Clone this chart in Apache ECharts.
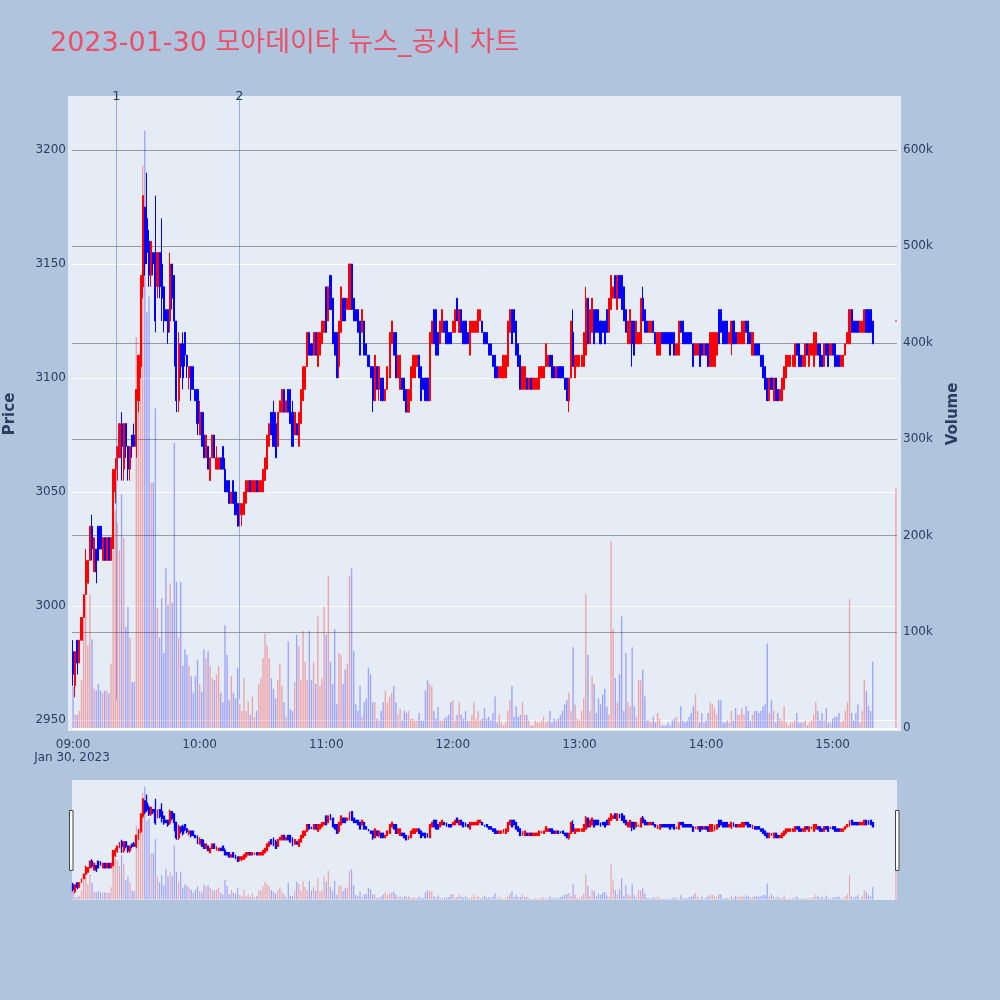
<!DOCTYPE html>
<html><head><meta charset="utf-8">
<script src="https://cdn.jsdelivr.net/npm/echarts@6/dist/echarts.min.js"></script>
<style>html,body{margin:0;padding:0;background:#B0C4DE;}#c{width:1000px;height:1000px;}</style>
</head><body><div id="c"></div>
<script>
// ---- data (minute candles, 09:00..15:19 plus 15:30 closing auction) ----
const openP = [
2980,2965,2985,2975,2985,2995,3005,3010,3020,3035, 3015,3025,3035,3035,3020,3030,3020,3030,3020,3025,
3050,3060,3065,3080,3060,3080,3070,3060,3075,3075, 3070,3090,3105,3140,3175,3170,3160,3145,3155,3155,
3140,3155,3150,3140,3130,3130,3125,3150,3145,3125, 3090,3115,3115,3120,3110,3100,3105,3105,3095,3095,
3075,3085,3075,3065,3070,3055,3065,3075,3060,3060, 3065,3070,3060,3055,3055,3045,3055,3050,3045,3040,
3040,3040,3045,3050,3055,3050,3050,3055,3050,3050, 3050,3055,3060,3070,3085,3085,3080,3070,3085,3085,
3095,3085,3095,3095,3085,3075,3080,3070,3080,3090, 3095,3105,3120,3115,3110,3120,3105,3110,3115,3120,
3140,3125,3145,3135,3120,3120,3105,3120,3135,3135, 3130,3130,3150,3135,3130,3130,3125,3120,3125,3115,
3110,3105,3105,3090,3105,3095,3100,3100,3090,3095, 3100,3115,3120,3120,3100,3095,3100,3100,3095,3085,
3090,3100,3100,3105,3110,3105,3100,3100,3100,3090, 3115,3130,3130,3120,3115,3120,3125,3125,3120,3120,
3120,3120,3135,3120,3130,3125,3125,3120,3110,3120, 3120,3120,3120,3125,3125,3120,3120,3115,3115,3110,
3110,3105,3100,3100,3100,3100,3105,3120,3130,3130, 3125,3115,3110,3095,3095,3100,3095,3100,3095,3095,
3095,3095,3100,3100,3105,3105,3110,3110,3105,3100, 3105,3105,3105,3100,3100,3090,3100,3120,3100,3105,
3105,3105,3105,3110,3135,3115,3120,3130,3130,3130, 3125,3125,3125,3130,3120,3130,3135,3145,3130,3145,
3145,3140,3130,3115,3115,3125,3125,3115,3115,3115, 3135,3130,3125,3120,3120,3125,3120,3110,3110,3120,
3120,3120,3120,3120,3120,3120,3110,3110,3125,3125, 3120,3120,3120,3120,3115,3110,3110,3115,3115,3110,
3115,3115,3105,3105,3105,3110,3130,3130,3125,3125, 3125,3115,3115,3125,3120,3115,3115,3115,3115,3125,
3125,3120,3110,3115,3115,3115,3110,3110,3105,3100, 3090,3100,3090,3100,3095,3090,3090,3095,3100,3105,
3105,3105,3105,3115,3115,3110,3105,3105,3115,3105, 3110,3105,3110,3115,3115,3110,3105,3115,3115,3110,
3115,3115,3110,3110,3105,3105,3110,3115,3115,3130, 3125,3125,3125,3120,3120,3120,3130,3130,3130,3125,
3125];
const closeP = [
2970,2980,2975,2985,2995,3005,3020,3020,3035,3025, 3030,3015,3020,3025,3030,3020,3030,3020,3030,3060,
3060,3070,3080,3070,3080,3070,3060,3070,3070,3070, 3095,3110,3145,3180,3150,3155,3145,3160,3150,3125,
3155,3140,3135,3125,3125,3120,3150,3135,3125,3090, 3115,3105,3100,3110,3105,3105,3095,3095,3090,3080,
3085,3070,3065,3075,3060,3065,3075,3065,3065,3065, 3060,3060,3050,3050,3045,3050,3045,3040,3035,3045,
3045,3050,3055,3055,3050,3055,3055,3050,3055,3055, 3060,3065,3075,3080,3075,3070,3065,3085,3090,3095,
3085,3090,3085,3080,3070,3085,3075,3085,3095,3105, 3105,3120,3110,3110,3120,3110,3120,3120,3125,3125,
3120,3140,3130,3115,3110,3100,3125,3140,3125,3125, 3135,3150,3130,3125,3125,3120,3110,3130,3110,3110,
3105,3100,3090,3110,3095,3105,3090,3090,3095,3105, 3120,3125,3110,3100,3110,3110,3095,3090,3085,3095,
3105,3110,3110,3110,3100,3090,3095,3090,3090,3120, 3125,3115,3110,3110,3125,3130,3120,3115,3115,3115,
3125,3130,3125,3130,3120,3115,3115,3115,3125,3125, 3125,3125,3130,3130,3120,3115,3115,3110,3110,3105,
3100,3100,3105,3105,3110,3110,3125,3130,3115,3120, 3110,3105,3095,3105,3105,3095,3100,3095,3100,3100,
3100,3105,3105,3105,3115,3110,3105,3100,3100,3105, 3100,3100,3100,3095,3090,3100,3125,3105,3110,3110,
3110,3110,3120,3135,3115,3130,3135,3115,3120,3120, 3115,3120,3115,3120,3135,3145,3140,3135,3145,3135,
3130,3125,3120,3125,3130,3115,3110,3125,3120,3135, 3125,3120,3120,3125,3125,3120,3115,3120,3120,3115,
3115,3115,3115,3110,3115,3110,3115,3125,3120,3115, 3115,3115,3115,3115,3105,3115,3115,3105,3110,3115,
3110,3105,3120,3120,3120,3120,3115,3120,3115,3115, 3115,3120,3125,3115,3115,3120,3120,3125,3125,3120,
3115,3115,3120,3110,3110,3110,3105,3100,3095,3090, 3100,3095,3100,3090,3090,3095,3100,3105,3110,3110,
3110,3110,3115,3110,3105,3105,3110,3115,3110,3115, 3115,3120,3120,3110,3105,3105,3115,3110,3105,3115,
3110,3105,3105,3105,3110,3110,3115,3120,3130,3120, 3120,3120,3120,3125,3125,3130,3120,3120,3120,3115,
3125];
const lowP = [
2965,2960,2970,2975,2985,2995,3005,3010,3020,3020, 3015,3010,3020,3025,3020,3020,3020,3020,3020,3025,
3045,3055,3065,3055,3055,3065,3055,3055,3065,3070, 3065,3085,3100,3135,3145,3150,3140,3140,3145,3120,
3135,3135,3125,3120,3125,3115,3120,3130,3105,3085, 3085,3100,3095,3105,3100,3095,3090,3095,3090,3075,
3075,3070,3065,3065,3060,3055,3065,3065,3060,3060, 3060,3060,3050,3050,3045,3045,3045,3040,3035,3035,
3035,3040,3045,3050,3050,3050,3050,3050,3050,3050, 3050,3055,3060,3070,3075,3070,3065,3070,3085,3085,
3085,3085,3085,3080,3070,3075,3075,3070,3080,3090, 3095,3105,3110,3110,3110,3110,3105,3110,3115,3120,
3120,3125,3130,3115,3110,3100,3100,3120,3125,3125, 3130,3130,3130,3125,3125,3120,3110,3120,3110,3110,
3105,3100,3085,3090,3095,3090,3090,3090,3090,3095, 3100,3115,3110,3100,3100,3095,3095,3090,3085,3085,
3090,3100,3100,3105,3100,3090,3095,3090,3090,3090, 3115,3115,3110,3110,3115,3120,3120,3115,3115,3115,
3120,3120,3125,3120,3120,3115,3115,3115,3110,3120, 3120,3120,3120,3125,3120,3115,3115,3110,3110,3105,
3100,3100,3100,3100,3100,3100,3105,3120,3115,3120, 3110,3105,3095,3095,3095,3095,3095,3095,3095,3095,
3095,3095,3100,3100,3105,3105,3105,3100,3100,3100, 3100,3100,3100,3095,3090,3085,3100,3105,3100,3105,
3105,3105,3105,3110,3115,3115,3120,3115,3120,3120, 3115,3120,3115,3120,3120,3130,3135,3135,3130,3135,
3130,3125,3120,3115,3115,3105,3110,3115,3115,3115, 3125,3120,3120,3120,3120,3120,3115,3110,3110,3115,
3115,3115,3115,3110,3115,3110,3110,3110,3120,3115, 3115,3115,3115,3115,3105,3110,3110,3105,3110,3110,
3110,3105,3105,3105,3105,3110,3115,3120,3115,3115, 3115,3115,3110,3115,3115,3115,3115,3115,3115,3120,
3115,3115,3110,3110,3110,3110,3105,3100,3095,3090, 3090,3095,3090,3090,3090,3090,3090,3095,3100,3105,
3105,3105,3105,3110,3105,3105,3105,3105,3110,3105, 3110,3105,3110,3110,3105,3105,3105,3110,3105,3110,
3110,3105,3105,3105,3105,3105,3110,3115,3115,3120, 3120,3120,3120,3120,3120,3120,3120,3120,3120,3115,
3125];
const highP = [
2985,2980,2985,2985,2995,3005,3025,3020,3035,3040, 3030,3025,3035,3035,3030,3030,3030,3030,3030,3060,
3065,3070,3080,3085,3080,3080,3070,3070,3075,3080, 3095,3110,3145,3180,3175,3190,3165,3160,3155,3180,
3155,3155,3170,3140,3130,3130,3155,3150,3145,3125, 3120,3115,3120,3120,3110,3105,3105,3105,3095,3095,
3090,3085,3085,3075,3070,3065,3075,3075,3070,3065, 3065,3070,3065,3055,3055,3050,3055,3050,3045,3045,
3045,3050,3055,3055,3055,3055,3055,3055,3055,3055, 3060,3065,3075,3080,3085,3090,3085,3085,3090,3095,
3095,3090,3095,3095,3090,3085,3080,3085,3095,3105, 3105,3120,3120,3115,3120,3120,3120,3120,3125,3125,
3140,3140,3145,3135,3120,3120,3125,3140,3135,3135, 3135,3150,3150,3135,3130,3130,3125,3130,3125,3115,
3110,3105,3105,3110,3105,3105,3100,3100,3095,3105, 3120,3125,3120,3120,3110,3110,3100,3100,3095,3095,
3105,3110,3110,3110,3110,3105,3100,3100,3100,3120, 3125,3130,3130,3120,3125,3130,3125,3125,3120,3120,
3125,3130,3135,3130,3130,3125,3125,3120,3125,3125, 3125,3125,3130,3130,3125,3120,3120,3115,3115,3110,
3110,3105,3105,3105,3110,3110,3125,3130,3130,3130, 3125,3115,3110,3105,3105,3100,3100,3100,3100,3100,
3100,3105,3105,3105,3115,3110,3110,3110,3105,3105, 3105,3105,3105,3100,3100,3100,3125,3130,3110,3110,
3110,3110,3120,3140,3135,3130,3135,3130,3130,3130, 3125,3125,3125,3130,3135,3145,3140,3145,3145,3145,
3145,3140,3130,3125,3130,3125,3125,3125,3120,3135, 3140,3130,3125,3125,3125,3125,3120,3120,3120,3120,
3120,3120,3120,3120,3120,3120,3115,3125,3125,3125, 3120,3120,3120,3120,3115,3115,3115,3115,3115,3115,
3115,3115,3120,3120,3120,3120,3130,3130,3125,3125, 3125,3120,3125,3125,3120,3120,3120,3125,3125,3125,
3125,3120,3120,3115,3115,3115,3110,3110,3105,3100, 3100,3100,3100,3100,3095,3095,3100,3105,3110,3110,
3110,3110,3115,3115,3115,3110,3110,3115,3115,3115, 3115,3120,3120,3115,3115,3110,3115,3115,3115,3115,
3115,3115,3110,3110,3110,3110,3115,3120,3130,3130, 3125,3125,3125,3125,3125,3130,3130,3130,3130,3125,
3125];
// volume in thousands of shares
const volumeK = [
43,14,14,18,50,126,137,86,139,92, 41,39,46,39,37,39,39,36,67,184,
226,213,185,243,198,105,126,94,48,48, 406,385,467,584,620,432,448,255,255,332,
125,94,135,78,166,128,150,130,296,152, 94,152,65,82,76,65,54,37,54,71,
46,38,82,73,80,65,52,50,56,65, 37,27,107,76,29,54,37,31,63,25,
18,52,18,28,14,33,12,18,46,52, 73,98,86,73,52,41,31,50,67,44,
27,12,90,20,18,48,97,85,50,101, 69,50,101,50,69,46,116,44,52,126,
97,158,69,46,103,25,78,76,46,61, 67,158,166,80,25,18,44,12,27,31,
63,56,27,27,10,8,18,27,39,27, 33,37,44,27,14,20,8,18,16,18,
10,10,8,8,16,8,8,39,50,46, 44,18,10,22,8,8,10,12,14,27,
29,8,14,27,14,10,18,8,8,14, 27,10,18,8,10,21,10,12,8,16,
33,6,14,6,3,6,18,29,44,12, 23,12,14,27,14,14,8,3,3,8,
6,6,8,12,6,8,18,6,10,8, 10,14,18,25,29,37,18,84,25,10,
8,18,31,139,76,18,54,46,16,31, 25,35,41,23,14,194,103,52,27,56,
116,18,78,27,23,84,23,12,50,50, 61,33,8,8,6,12,6,16,10,3,
3,3,6,3,8,10,12,6,23,8, 6,8,12,16,23,35,18,6,16,6,
8,16,27,25,21,14,29,29,6,6, 8,6,18,8,21,14,14,21,14,23,
18,8,14,18,18,16,18,23,25,88, 16,29,18,6,16,10,8,23,6,3,
6,6,8,16,6,6,6,8,3,6, 8,14,27,18,8,16,8,21,6,6,
10,12,12,16,6,8,18,27,134,16, 8,16,25,6,18,50,39,23,18,69,
249];
const sessionMinutes = 380;        // 09:00 .. 15:19, one candle per minute
const closingAuctionMinute = 390;  // 15:30
const hourTicks = [0, 60, 120, 180, 240, 300, 360];
const hourLabels = ['09:00', '10:00', '11:00', '12:00', '13:00', '14:00', '15:00'];
const priceTicks = [2950, 3000, 3050, 3100, 3150, 3200];
const volumeTicks = [0, 100000, 200000, 300000, 400000, 500000, 600000];
const newsMinutes = [20.5, 78.8];   // news / disclosure times
const newsLabels = ['1', '2'];
const titleText = '2023-01-30 모아데이타 뉴스_공시 차트';

// ---- build series data ----
const minutes = [];
for (let i = 0; i < sessionMinutes; i++) minutes.push(i);
minutes.push(closingAuctionMinute);

const X_MIN = -0.5, X_MAX = 390.5;
const priceMin = 2950 - 11 / 2.28, priceMax = 3200 + 54 / 2.28;
const volMin = -2800, volMax = 656000;

const up = [];
for (let i = 0; i < minutes.length; i++) {
  const o = openP[i], c = closeP[i];
  up.push(c > o || (c === o && (i === 0 || c >= closeP[i - 1])));
}
const candleData = minutes.map((m, i) => [m, openP[i], closeP[i], lowP[i], highP[i]]);
const volData = minutes.map((m, i) => ({
  value: [m, volumeK[i] * 1000],
  itemStyle: { color: up[i] ? 'rgba(255,0,0,0.3)' : 'rgba(0,0,255,0.3)' }
}));
const newsLineBottom = priceMin + 0.05 * (priceMax - priceMin);

const FONT = 'DejaVu Sans, Verdana, sans-serif';
const TXT = '#2a3f5f';

const chart = echarts.init(document.getElementById('c'), null, { renderer: 'canvas' });
chart.setOption({
  animation: false,
  backgroundColor: '#B0C4DE',
  textStyle: { fontFamily: FONT },
  title: {
    text: titleText, left: 45, top: 22,
    textStyle: { color: '#EC5068', fontSize: 27, fontWeight: 'normal', lineHeight: 34,
      fontFamily: 'DejaVu Sans, "Noto Sans CJK KR", sans-serif' }
  },
  graphic: [
    { type: 'rect', z: -100, silent: true, shape: { x: 68, y: 96, width: 833, height: 635 }, style: { fill: '#E5ECF6' } },
    { type: 'text', silent: true, style: { x: 72, y: 758, text: 'Jan 30, 2023', fill: TXT, font: '12px ' + FONT, align: 'center', verticalAlign: 'middle' } },
    { type: 'text', silent: true, rotation: Math.PI / 2, x: 10, y: 414, style: { x: 0, y: 0, text: 'Price', fill: TXT, font: 'bold 15px ' + FONT, align: 'center', verticalAlign: 'middle' } },
    { type: 'text', silent: true, rotation: Math.PI / 2, x: 953, y: 414, style: { x: 0, y: 0, text: 'Volume', fill: TXT, font: 'bold 15px ' + FONT, align: 'center', verticalAlign: 'middle' } },
    { type: 'rect', z: 100, silent: true, shape: { x: 69.5, y: 810.5, width: 3.5, height: 60 }, style: { fill: '#fff', stroke: '#444', lineWidth: 1 } },
    { type: 'rect', z: 100, silent: true, shape: { x: 895.5, y: 810.5, width: 3.5, height: 60 }, style: { fill: '#fff', stroke: '#444', lineWidth: 1 } }
  ],
  grid: [
    { left: 72, top: 96, width: 825, height: 635, show: false },
    { left: 72, top: 780, width: 825, height: 120, show: true, backgroundColor: '#E5ECF6', borderWidth: 0 }
  ],
  xAxis: [
    { type: 'value', gridIndex: 0, min: X_MIN, max: X_MAX,
      axisLine: { show: false }, axisTick: { show: false }, splitLine: { show: false },
      axisLabel: { customValues: hourTicks, color: TXT, fontSize: 12, fontFamily: FONT, margin: 8,
        formatter: v => hourLabels[hourTicks.indexOf(v)] || '' } },
    { type: 'value', gridIndex: 1, min: X_MIN, max: X_MAX, show: false }
  ],
  yAxis: [
    { type: 'value', gridIndex: 0, position: 'left', min: priceMin, max: priceMax, scale: true,
      axisLine: { show: false }, axisTick: { show: false },
      axisLabel: { customValues: priceTicks, color: TXT, fontSize: 12, fontFamily: FONT, margin: 6,
        formatter: v => String(Math.round(v)) },
      splitLine: { show: true, showMinLine: false, showMaxLine: false, lineStyle: { color: '#ffffff', width: 1 } } },
    { type: 'value', gridIndex: 0, position: 'right', min: volMin, max: volMax,
      axisLine: { show: false }, axisTick: { show: false },
      axisLabel: { customValues: volumeTicks, color: TXT, fontSize: 12, fontFamily: FONT, margin: 6,
        formatter: v => v === 0 ? '0' : (v / 1000) + 'k' },
      splitLine: { show: true, showMinLine: false, showMaxLine: false, lineStyle: { color: '#9a9a9a', width: 1.2 } } },
    { type: 'value', gridIndex: 1, min: priceMin, max: priceMax, show: false, scale: true },
    { type: 'value', gridIndex: 1, min: volMin, max: volMax, show: false }
  ],
  series: [
    { name: 'Volume', type: 'bar', xAxisIndex: 0, yAxisIndex: 1, data: volData, barWidth: 1.4, z: 2,
      markLine: { silent: true, symbol: ['none', 'none'], label: { show: false },
        lineStyle: { color: '#ffffff', width: 2, type: 'solid' }, data: [{ yAxis: 0 }] } },
    { name: 'Price', type: 'candlestick', xAxisIndex: 0, yAxisIndex: 0, data: candleData,
      encode: { x: 0, y: [1, 2, 3, 4] }, barWidth: 1.6, z: 3,
      itemStyle: { color: '#FF0000', color0: '#0000FF', borderColor: '#FF0000', borderColor0: '#0000FF', borderWidth: 1 },
      markLine: { silent: true, symbol: ['none', 'none'],
        lineStyle: { color: 'rgba(65,105,225,0.5)', width: 1, type: 'solid' },
        label: { show: true, position: 'end', distance: -7, color: TXT, fontSize: 13, fontFamily: FONT,
          formatter: p => p.name },
        data: newsMinutes.map((m, i) => [{ coord: [m, newsLineBottom], name: newsLabels[i] }, { coord: [m, priceMax] }]) } },
    { name: 'VolumeMini', type: 'bar', xAxisIndex: 1, yAxisIndex: 3, data: volData, barWidth: 1.2, z: 2 },
    { name: 'PriceMini', type: 'candlestick', xAxisIndex: 1, yAxisIndex: 2, data: candleData,
      encode: { x: 0, y: [1, 2, 3, 4] }, barWidth: 1.4, z: 3,
      itemStyle: { color: '#FF0000', color0: '#0000FF', borderColor: '#FF0000', borderColor0: '#0000FF', borderWidth: 1.3 } }
  ]
});
</script></body></html>
